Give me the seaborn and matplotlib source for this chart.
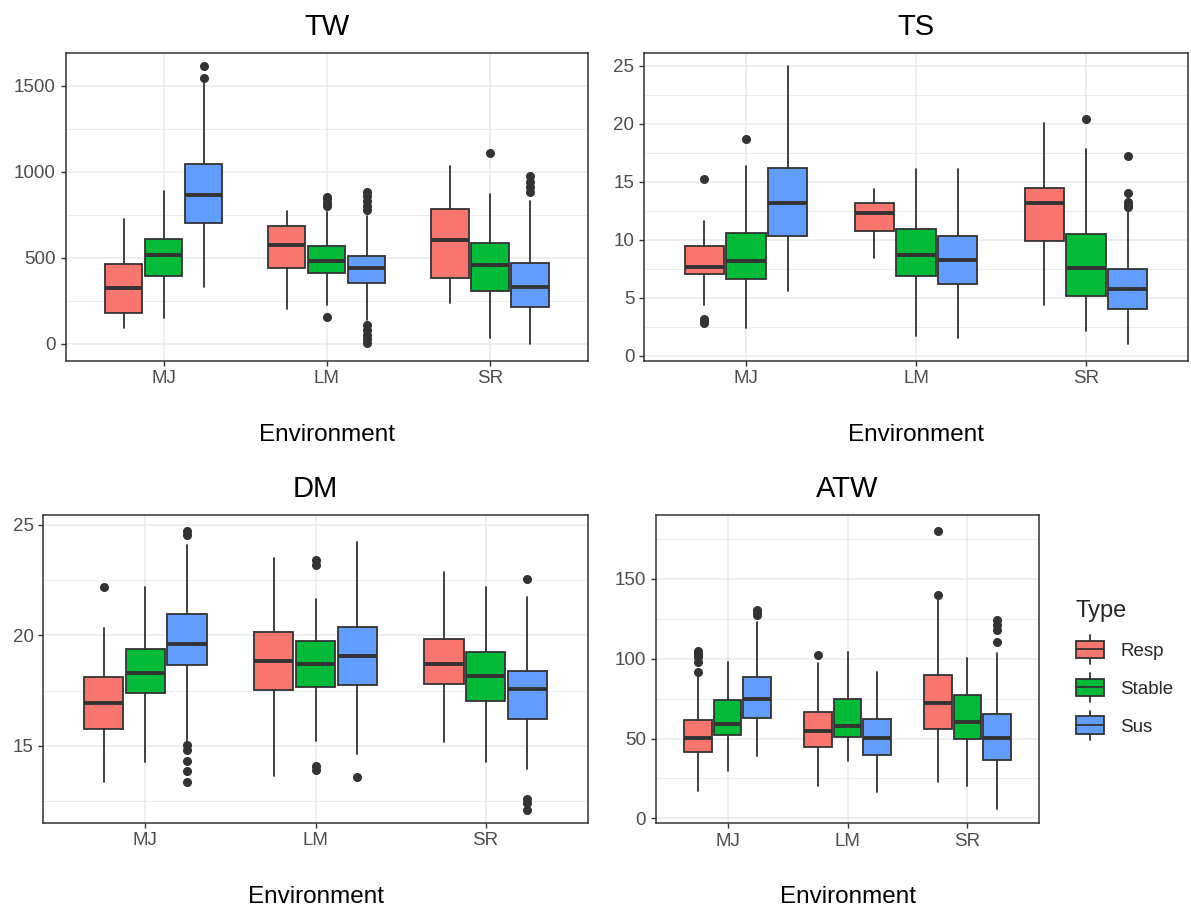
import numpy as np
import matplotlib
matplotlib.use("Agg")
import matplotlib.pyplot as plt
from matplotlib.patches import Rectangle, Patch
from matplotlib.lines import Line2D
from matplotlib.legend_handler import HandlerBase
import seaborn as sns

sns.set_theme(style="white")
plt.rcParams['font.family'] = ['Liberation Sans', 'DejaVu Sans']

environments = ["MJ", "LM", "SR"]
types = ["Resp", "Stable", "Sus"]
palette = sns.color_palette(["#F8766D", "#00BA38", "#619CFF"])

# box stats, order: MJ-Resp, MJ-Stable, MJ-Sus, LM-..., SR-...
tw_lo = [95, 153, 333, 201, 226, 139, 236, 37, 0]
tw_q1 = [182, 395, 704, 443, 414, 356, 385, 310, 213]
tw_med = [323, 517, 865, 575, 482, 439, 604, 459, 333]
tw_q3 = [463, 608, 1043, 685, 569, 511, 782, 588, 472]
tw_hi = [728, 890, 1520, 774, 765, 745, 1036, 871, 832]
tw_out = [[], [], [1546, 1614], [], [155, 800, 820, 840, 855],
          [5, 30, 55, 80, 110, 780, 800, 830, 860, 884], [], [1111],
          [880, 910, 940, 976]]

ts_lo = [4.37, 2.42, 5.58, 8.4, 1.70, 1.55, 4.37, 2.13, 0.98]
ts_q1 = [7.02, 6.59, 10.33, 10.76, 6.88, 6.16, 9.9, 5.15, 4.0]
ts_med = [7.68, 8.17, 13.15, 12.29, 8.69, 8.26, 13.15, 7.54, 5.73]
ts_q3 = [9.44, 10.6, 16.22, 13.2, 10.9, 10.3, 14.5, 10.47, 7.45]
ts_hi = [11.62, 16.4, 25.0, 14.38, 16.1, 16.1, 20.1, 17.83, 12.57]
ts_out = [[2.8, 3.0, 3.2, 15.22], [18.67], [], [], [], [], [], [20.4],
          [12.8, 13.0, 13.3, 14.0, 17.2]]

dm_lo = [13.35, 14.25, 15.23, 13.63, 15.23, 14.63, 15.16, 14.25, 13.96]
dm_q1 = [15.77, 17.38, 18.64, 17.51, 17.65, 17.74, 17.81, 17.04, 16.23]
dm_med = [16.95, 18.31, 19.59, 18.85, 18.69, 19.06, 18.69, 18.16, 17.56]
dm_q3 = [18.1, 19.38, 20.96, 20.14, 19.76, 20.36, 19.83, 19.23, 18.4]
dm_hi = [20.32, 22.2, 24.09, 23.48, 21.66, 24.24, 22.88, 22.2, 21.75]
dm_out = [[22.17], [], [13.35, 13.85, 14.3, 14.8, 15.05, 24.55, 24.7], [],
          [13.9, 14.1, 23.2, 23.4], [13.57], [], [], [12.1, 12.4, 12.6, 22.56]]

atw_lo = [17.1, 29.8, 39, 20.4, 36.1, 16.3, 22.6, 20.4, 5.8]
atw_q1 = [41.7, 52, 62.6, 44.9, 50.9, 39.5, 56.1, 49.9, 36.3]
atw_med = [50.5, 58.9, 74.5, 54.9, 57.8, 50.5, 72.4, 60.2, 50.5]
atw_q3 = [61.4, 73.9, 88.3, 66.6, 74.9, 62.4, 89.8, 77.1, 65.5]
atw_hi = [90, 98.1, 123.2, 97.1, 104.4, 91.9, 137, 100.2, 103.4]
atw_out = [[91.5, 98, 101, 103, 105], [], [127.5, 129, 130.5], [102.1], [], [],
           [140, 180.2], [], [110.3, 118, 121, 124]]

EDGE = "#333333"
GRID = "#EBEBEB"

W, H = 1191, 913
fig = plt.figure(figsize=(W / 100, H / 100), dpi=100)


def px_axes(left, top, right, bottom):
    return fig.add_axes([left / W, (H - bottom) / H, (right - left) / W, (bottom - top) / H])


def draw_panel(ax, title, lo, q1, med, q3, hi, out, ylim, major, minor):
    stats = []
    positions = []
    colors = []
    k = 0
    for i, env in enumerate(environments):
        for j, t in enumerate(types):
            stats.append(dict(whislo=lo[k], q1=q1[k], med=med[k], q3=q3[k],
                              whishi=hi[k], fliers=out[k], label=f"{env}-{t}"))
            positions.append(i + (j - 1) * 0.245)
            colors.append(palette[j])
            k += 1
    bp = ax.bxp(stats, positions=positions, widths=0.23, patch_artist=True,
                showfliers=True, manage_ticks=False,
                boxprops=dict(edgecolor=EDGE, linewidth=1.3),
                medianprops=dict(color=EDGE, linewidth=2.8, solid_capstyle="butt"),
                whiskerprops=dict(color=EDGE, linewidth=1.3),
                capprops=dict(linewidth=0),
                flierprops=dict(marker="o", markerfacecolor=EDGE, markeredgecolor=EDGE,
                                markersize=5.5, linestyle="none"))
    for patch, c in zip(bp["boxes"], colors):
        patch.set_facecolor(c)
    ax.set_xlim(-0.6, 2.6)
    ax.set_ylim(*ylim)
    ax.set_xticks(range(3))
    ax.set_xticklabels(environments)
    ax.set_yticks(major)
    ax.set_yticks(minor, minor=True)
    ax.grid(True, which="major", color=GRID, linewidth=1.1)
    ax.grid(True, which="minor", axis="y", color=GRID, linewidth=0.6)
    ax.set_axisbelow(True)
    for s in ax.spines.values():
        s.set_color(EDGE)
        s.set_linewidth(1.1)
    ax.tick_params(axis="both", which="major", length=3.5, width=1.0, color=EDGE,
                   labelcolor="#4D4D4D", labelsize=13.5, pad=3.5, left=True, bottom=True)
    ax.tick_params(axis="y", which="minor", length=0)
    ax.set_title(title, fontsize=21, color="black", pad=13)
    ax.set_xlabel("Environment", fontsize=17.5, color="black", labelpad=26)
    ax.set_ylabel("")


ax_tw = px_axes(65.7, 53.3, 587.7, 360.7)
draw_panel(ax_tw, "TW", tw_lo, tw_q1, tw_med, tw_q3, tw_hi, tw_out,
           (-97, 1688), [0, 500, 1000, 1500], [250, 750, 1250])

ax_ts = px_axes(644, 53.3, 1188, 360.7)
draw_panel(ax_ts, "TS", ts_lo, ts_q1, ts_med, ts_q3, ts_hi, ts_out,
           (-0.43, 26.09), [0, 5, 10, 15, 20, 25], [2.5, 7.5, 12.5, 17.5, 22.5])

ax_dm = px_axes(43.3, 515, 587.7, 822.7)
draw_panel(ax_dm, "DM", dm_lo, dm_q1, dm_med, dm_q3, dm_hi, dm_out,
           (11.52, 25.44), [15, 20, 25], [12.5, 17.5, 22.5])

ax_atw = px_axes(655.7, 515, 1039.3, 823.3)
draw_panel(ax_atw, "ATW", atw_lo, atw_q1, atw_med, atw_q3, atw_hi, atw_out,
           (-3.1, 190), [0, 50, 100, 150], [25, 75, 125, 175])


class BoxKey(HandlerBase):
    def create_artists(self, legend, orig_handle, xdescent, ydescent, width, height,
                       fontsize, trans):
        x0, y0 = -xdescent, -ydescent
        fc = orig_handle.get_facecolor()
        xm = x0 + width / 2
        arts = [
            Line2D([xm, xm], [y0 - 0.33 * height, y0 + height * 1.33], color=EDGE,
                   linewidth=1.3, transform=trans),
            Rectangle((x0, y0), width, height, facecolor=fc,
                      edgecolor=EDGE, linewidth=1.3, transform=trans),
            Line2D([x0, x0 + width], [y0 + height / 2, y0 + height / 2], color=EDGE,
                   linewidth=1.3, transform=trans),
        ]
        return arts


handles = [Patch(facecolor=palette[j], label=t) for j, t in enumerate(types)]
leg = fig.legend(handles=handles, labels=types, title="Type", loc="upper left",
                 bbox_to_anchor=(1076 / W, (H - 600) / H), frameon=False,
                 handler_map={Patch: BoxKey()}, fontsize=13.5, title_fontsize=17,
                 handlelength=1.5, handleheight=1.05, labelspacing=1.0,
                 handletextpad=0.85, borderpad=0, borderaxespad=0, alignment="left")

fig.savefig("out.png", dpi=100)
